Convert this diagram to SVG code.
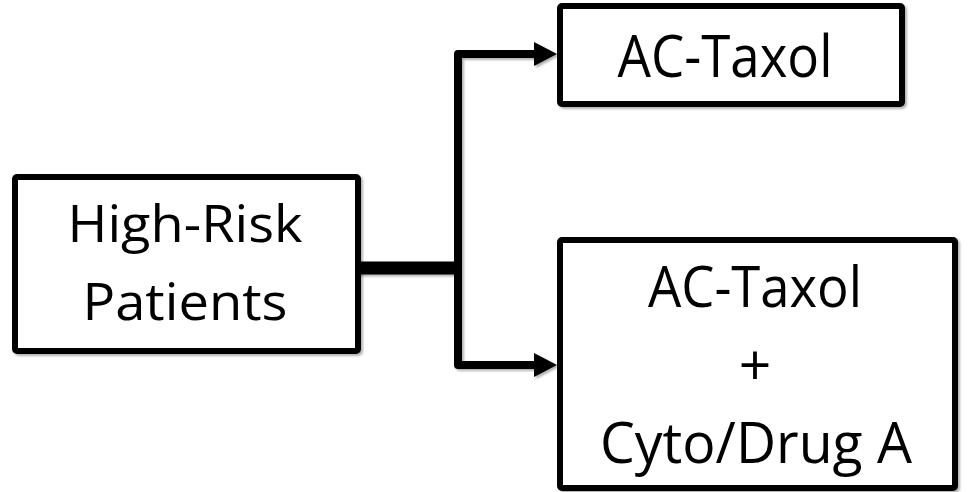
<svg xmlns="http://www.w3.org/2000/svg" width="969" height="492" viewBox="0 0 969 492">
  <style>
    .box { fill: #ffffff; stroke: #000000; stroke-width: 6; stroke-linejoin: round; filter: url(#sh); }
    .lbl { font-family: "Open Sans", "Noto Sans", "Liberation Sans", sans-serif; fill: #000000; text-anchor: middle; }
    .conn { fill: none; stroke: #000000; stroke-width: 8; stroke-linejoin: round; filter: url(#sh); }
  </style>
  <defs>
    <filter id="sh" filterUnits="userSpaceOnUse" x="0" y="0" width="969" height="492">
      <feDropShadow dx="2" dy="2" stdDeviation="1" flood-color="#000000" flood-opacity="0.3"/>
    </filter>
    <marker id="ah" viewBox="0 0 24 24" refX="3" refY="12" markerWidth="24" markerHeight="24" markerUnits="userSpaceOnUse" orient="auto">
      <path d="M0,0 L23,12 L0,24 Z" fill="#000000"/>
    </marker>
  </defs>
  <rect width="969" height="492" fill="#ffffff"/>
  <g id="connectors">
    <path class="conn" d="M358,268 H458" style="stroke-width:13"/>
    <path class="conn" d="M458,268 V54 H537" marker-end="url(#ah)"/>
    <path class="conn" d="M458,268 V365 H537" marker-end="url(#ah)"/>
  </g>
  <g id="node-high-risk">
    <rect class="box" x="15" y="177" width="343" height="174" rx="2"/>
    <text class="lbl" x="185" y="242" font-size="52" textLength="235" lengthAdjust="spacingAndGlyphs">High-Risk</text>
    <text class="lbl" x="185" y="320" font-size="52" textLength="205" lengthAdjust="spacingAndGlyphs">Patients</text>
  </g>
  <g id="node-ac-taxol">
    <rect class="box" x="560" y="6" width="342" height="98" rx="2"/>
    <text class="lbl" x="725" y="77" font-size="58" textLength="215" lengthAdjust="spacingAndGlyphs">AC-Taxol</text>
  </g>
  <g id="node-ac-taxol-cyto">
    <rect class="box" x="560" y="240" width="395" height="248" rx="2"/>
    <text class="lbl" x="755" y="307" font-size="57" textLength="214" lengthAdjust="spacingAndGlyphs">AC-Taxol</text>
    <text class="lbl" x="755" y="385" font-size="57">+</text>
    <text class="lbl" x="756" y="463" font-size="57" textLength="312" lengthAdjust="spacingAndGlyphs">Cyto/Drug A</text>
  </g>
</svg>
